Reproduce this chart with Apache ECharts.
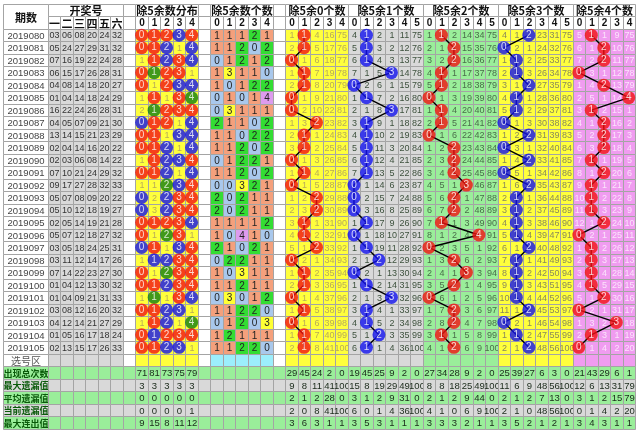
<!DOCTYPE html>
<html><head><meta charset="utf-8">
<script src="https://cdn.jsdelivr.net/npm/echarts/dist/echarts.min.js"></script>
<style>html,body{margin:0;padding:0;background:#fff}#c{width:640px;height:434px}</style>
</head><body><div id="c"></div>
<script>
// ---------- data ----------
const periods = ["2019080","2019081","2019082","2019083","2019084","2019085","2019086","2019087","2019088","2019089","2019090","2019091","2019092","2019093","2019094","2019095","2019096","2019097","2019098","2019099","2019100","2019101","2019102","2019103","2019104","2019105"];
const draws = ["03 06 08 20 24 32","05 24 27 29 31 32","07 16 19 22 24 28","06 15 17 26 28 31","04 08 14 18 20 27","01 04 14 18 24 29","16 22 24 26 28 31","04 05 07 09 21 30","13 14 15 21 23 29","02 04 14 16 20 22","02 03 06 08 14 22","07 10 21 24 29 32","09 17 27 28 32 33","05 07 08 09 20 22","05 10 12 18 19 27","02 05 14 19 21 28","05 07 12 18 27 32","03 05 18 24 25 31","03 11 12 14 17 26","07 14 22 23 27 30","01 04 12 13 30 32","01 04 09 21 31 33","03 08 12 16 20 32","04 12 14 21 27 29","01 05 16 17 18 24","02 13 15 17 26 33"];
// 除5余数个数 (count of remainders 0..4)
const remCounts = ["1 1 1 2 1","1 1 2 0 2","0 1 2 1 2","1 3 1 1 0","1 0 1 2 2","0 1 0 1 4","0 3 1 1 1","2 1 1 0 2","1 1 0 2 2","1 1 2 0 2","0 1 2 2 1","1 1 2 0 2","0 0 3 2 1","2 0 2 1 1","2 0 2 1 1","1 1 1 1 2","1 0 4 1 0","2 1 0 2 1","0 2 2 1 1","1 0 3 1 1","1 1 2 1 1","0 3 0 1 2","1 1 2 2 0","0 1 2 0 3","1 2 1 1 1","1 1 2 2 0"];
// 除5余数分布 omission values (shown where a remainder is absent)
const distMiss = ["0 0 0 0 0","0 0 0 1 0","1 0 0 0 0","0 0 0 0 1","0 1 0 0 0","1 0 1 0 0","2 0 0 0 0","0 0 0 1 0","0 0 1 0 0","0 0 0 1 0","1 0 0 0 0","0 0 0 1 0","1 1 0 0 0","0 2 0 0 0","0 3 0 0 0","0 0 0 0 0","0 1 0 0 1","0 0 1 0 0","1 0 0 0 0","0 1 0 0 0","0 0 0 0 0","1 0 1 0 0","0 0 0 0 1","1 0 0 1 0","0 0 0 0 0","0 0 0 0 1"];
// section omission tables (0 = hit, drawn as ball)
const sec0 = ["1 0 4 16 75","2 0 5 17 76","0 1 6 18 77","1 0 7 19 78","2 0 8 20 79","0 1 9 21 80","0 2 10 22 81","1 3 0 23 82","2 0 1 24 83","3 0 2 25 84","0 1 3 26 85","1 0 4 27 86","0 1 5 28 87","1 2 0 29 88","2 3 0 30 89","3 0 1 31 90","4 0 2 32 91","5 1 0 33 92","0 2 1 34 93","1 0 2 35 94","2 0 3 36 95","0 1 4 37 96","1 0 5 38 97","0 1 6 39 98","1 0 7 40 99","2 0 8 41 100"];
const sec1 = ["4 0 2 1 11 75","5 0 3 2 12 76","6 0 4 3 13 77","7 1 5 0 14 78","0 2 6 1 15 79","1 0 7 2 16 80","2 1 8 0 17 81","3 0 9 1 18 82","4 0 10 2 19 83","5 0 11 3 20 84","6 0 12 4 21 85","7 0 13 5 22 86","0 1 14 6 23 87","0 2 15 7 24 88","0 3 16 8 25 89","1 0 17 9 26 90","0 1 18 10 27 91","1 0 19 11 28 92","2 1 0 12 29 93","0 2 1 13 30 94","1 0 2 14 31 95","2 1 3 0 32 96","3 0 4 1 33 97","4 0 5 2 34 98","5 1 0 3 35 99","6 0 1 4 36 100"];
const sec2 = ["1 0 2 14 34 75","2 1 0 15 35 76","3 2 0 16 36 77","4 0 1 17 37 78","5 0 2 18 38 79","0 1 3 19 39 80","1 0 4 20 40 81","2 0 5 21 41 82","0 1 6 22 42 83","1 2 0 23 43 84","2 3 0 24 44 85","3 4 0 25 45 86","4 5 1 0 46 87","5 6 0 1 47 88","6 7 0 2 48 89","7 0 1 3 49 90","8 1 2 4 0 91","0 2 3 5 1 92","1 3 0 6 2 93","2 4 1 0 3 94","3 5 0 1 4 95","0 6 1 2 5 96","1 7 0 3 6 97","2 8 0 4 7 98","3 0 1 5 8 99","4 1 0 6 9 100"];
const sec3 = ["4 1 0 23 31 75","0 2 1 24 32 76","1 0 2 25 33 77","2 0 3 26 34 78","3 1 0 27 35 79","4 0 1 28 36 80","5 0 2 29 37 81","0 1 3 30 38 82","1 2 0 31 39 83","0 3 1 32 40 84","1 4 0 33 41 85","0 5 1 34 42 86","1 6 0 35 43 87","2 0 1 36 44 88","3 0 2 37 45 89","4 0 3 38 46 90","5 0 4 39 47 91","6 1 0 40 48 92","7 0 1 41 49 93","8 0 2 42 50 94","9 0 3 43 51 95","10 0 4 44 52 96","11 1 0 45 53 97","0 2 1 46 54 98","1 0 2 47 55 99","2 1 0 48 56 100"];
const sec4 = ["5 0 1 9 75","6 1 0 10 76","7 2 0 11 77","0 3 1 12 78","1 4 0 13 79","2 5 1 14 0","3 0 2 15 1","4 1 0 16 2","5 2 0 17 3","6 3 0 18 4","7 0 1 19 5","8 1 0 20 6","9 0 1 21 7","10 0 2 22 8","11 0 3 23 9","12 1 0 24 10","0 2 1 25 11","1 0 2 26 12","2 0 3 27 13","3 0 4 28 14","4 0 5 29 15","5 1 0 30 16","0 2 1 31 17","1 3 2 0 18","2 0 3 1 19","0 1 4 2 20"];
const statLabels = ["出现总次数","最大遗漏值","平均遗漏值","当前遗漏值","最大连出值"];
const distStats = ["71 81 73 75 79","3 3 3 3 3","0 0 0 0 0","0 0 0 0 1","9 15 8 11 12"];
const stats0 = ["29 45 24 2 0","9 8 11 41 100","2 1 2 28 0","2 0 8 41 100","3 6 3 1 1"];
const stats1 = ["19 45 25 9 2 0","15 8 19 29 49 100","3 1 2 9 31 0","6 0 1 4 36 100","3 5 3 1 1 1"];
const stats2 = ["27 34 28 9 2 0","8 8 18 25 49 100","2 1 2 9 44 0","4 1 0 6 9 100","3 3 3 2 1 1"];
const stats3 = ["25 39 27 6 3 0","11 6 9 48 56 100","2 1 2 7 13 0","2 1 0 48 56 100","3 5 2 1 2 1"];
const stats4 = ["21 43 29 6 1","12 6 13 31 79","3 1 2 15 79","0 1 4 2 20","3 4 3 1 1"];
const numHeads = ["一","二","三","四","五","六"];

// ---------- styling ----------
const NUM = '9px "Liberation Sans", Arial, sans-serif';
const NUMB = 'bold 10px "Liberation Sans", Arial, sans-serif';
const CJKB = 'bold 11px "Noto Sans CJK SC", sans-serif';
const CJKS = 'bold 9px "Noto Sans CJK SC", sans-serif';
const YEL = '#ffff3c', GRY = '#d9d9d9', GRN = '#9aee9a', PNK = '#f09cf0';
const cntFill = ['#a9c8ec', '#f4a07c', '#33dd33', '#ffff33', '#dd9bee'];
const RED = '#f21212', BLUE = '#1212ee', DGRN = '#128012';
const sections = [
  {name:'除5余0个数', start:19, rows:sec0, bg:YEL, txt:'#b8ac58', ball:RED, stats:stats0},
  {name:'除5余1个数', start:24, rows:sec1, bg:GRY, txt:'#3c503c', ball:BLUE, stats:stats1},
  {name:'除5余2个数', start:30, rows:sec2, bg:GRN, txt:'#4a6e4a', ball:RED, stats:stats2},
  {name:'除5余3个数', start:36, rows:sec3, bg:YEL, txt:'#8a8a5a', ball:BLUE, stats:stats3},
  {name:'除5余4个数', start:42, rows:sec4, bg:PNK, txt:'#fbe4fb', ball:RED, stats:stats4}
];
const X0 = -3.6, XW = 3.6, NCOL = 47;

const cells = [];
function cell(x, y, w, h, fill, text, color, font) {
  cells.push({x, y, w, h, fill, text: text == null ? '' : String(text), color: color || '#222', font: font || NUM});
}
const balls = [];
const lines = sections.map(() => []);
const sp = s => s.split(' ');

// header
cell(X0, 0, XW, 2, '#fff', '期数', '#111', CJKB);
cell(0, 0, 6, 1, '#fff', '开奖号', '#111', CJKB);
numHeads.forEach((t, i) => cell(i, 1, 1, 1, '#fff', t, '#111', CJKB));
[6, 12, 18].forEach(c => { cell(c, 0, 1, 1, '#fff'); cell(c, 1, 1, 1, '#fff'); });
cell(7, 0, 5, 1, '#fff', '除5余数分布', '#111', CJKB);
cell(13, 0, 5, 1, '#fff', '除5余数个数', '#111', CJKB);
for (let i = 0; i < 5; i++) { cell(7 + i, 1, 1, 1, '#fff', i, '#111', NUMB); cell(13 + i, 1, 1, 1, '#fff', i, '#111', NUMB); }
sections.forEach(s => {
  const n = sp(s.rows[0]).length;
  cell(s.start, 0, n, 1, '#fff', s.name, '#111', CJKB);
  for (let i = 0; i < n; i++) cell(s.start + i, 1, 1, 1, '#fff', i, '#111', NUMB);
});

// data rows
periods.forEach((p, r) => {
  const y = 2 + r;
  cell(X0, y, XW, 1, '#fff', p, '#444', '9.5px "Liberation Sans", Arial, sans-serif');
  sp(draws[r]).forEach((d, i) => cell(i, y, 1, 1, GRY, d, '#333', NUM));
  [6, 12, 18].forEach(c => cell(c, y, 1, 1, '#fff'));
  const cnt = sp(remCounts[r]).map(Number);
  const dm = sp(distMiss[r]);
  cnt.forEach((c, i) => {
    if (c > 0) {
      cell(7 + i, y, 1, 1, YEL);
      balls.push({value: [7 + i + 0.5, y + 0.5, i], itemStyle: {color: c === 1 ? RED : (c === 2 ? BLUE : DGRN)}});
    } else {
      cell(7 + i, y, 1, 1, YEL, dm[i], '#b8ac58', NUM);
    }
    cell(13 + i, y, 1, 1, cntFill[Math.min(c, 4)], c, '#222', '10px "Liberation Sans", Arial, sans-serif');
  });
  sections.forEach((s, si) => {
    sp(s.rows[r]).forEach((v, i) => {
      if (v === '0') {
        cell(s.start + i, y, 1, 1, s.bg);
        balls.push({value: [s.start + i + 0.5, y + 0.5, i], itemStyle: {color: s.ball}});
        lines[si].push([s.start + i + 0.5, y + 0.5]);
      } else {
        cell(s.start + i, y, 1, 1, s.bg, v, s.txt, NUM);
      }
    });
  });
});

// 选号区 row
{
  const y = 28;
  cell(X0, y, XW, 1, '#fff', '选号区', '#555', '10px "Noto Sans CJK SC", sans-serif');
  for (let i = 0; i < 6; i++) cell(i, y, 1, 1, GRY);
  [6, 12, 18].forEach(c => cell(c, y, 1, 1, '#fff'));
  for (let i = 0; i < 5; i++) { cell(7 + i, y, 1, 1, YEL); cell(13 + i, y, 1, 1, '#9ceefc'); }
  sections.forEach(s => { const n = sp(s.rows[0]).length; for (let i = 0; i < n; i++) cell(s.start + i, y, 1, 1, s.bg); });
}

// statistics rows
statLabels.forEach((lab, k) => {
  const y = 29 + k;
  const bg = (k % 2 === 0) ? GRN : GRY;
  cell(X0, y, XW, 1, bg, lab, '#0a5a0a', CJKS);
  const filled = {};
  sp(distStats[k]).forEach((v, i) => { filled[7 + i] = v; });
  sections.forEach(s => sp(s.stats[k]).forEach((v, i) => { filled[s.start + i] = v; }));
  for (let c = 0; c < NCOL; c++) cell(c, y, 1, 1, bg, filled[c], '#1a2a1a', '9.5px "Liberation Sans", Arial, sans-serif');
});

// ---------- chart ----------
const chart = echarts.init(document.getElementById('c'), null, {renderer: 'canvas'});
const series = [{
  type: 'custom', silent: true, z: 1,
  data: cells.map(c => [c.x, c.y, c.x + c.w, c.y + c.h]),
  encode: {x: [0, 2], y: [1, 3]},
  renderItem: function (params, api) {
    const c = cells[params.dataIndex];
    const a = api.coord([api.value(0), api.value(1)]);
    const b = api.coord([api.value(2), api.value(3)]);
    const x = Math.round(a[0]) + 0.5, y = Math.round(a[1]) + 0.5;
    const w = Math.round(b[0]) - Math.round(a[0]), h = Math.round(b[1]) - Math.round(a[1]);
    const ch = [{type: 'rect', shape: {x, y, width: w, height: h}, style: {fill: c.fill, stroke: '#a4a4a4', lineWidth: 1}}];
    if (c.text !== '') ch.push({type: 'text', style: {x: x + w / 2, y: y + h / 2 + 0.5, text: c.text, fill: c.color, font: c.font, align: 'center', verticalAlign: 'middle'}});
    return {type: 'group', children: ch};
  }
}];
lines.forEach(pts => series.push({
  type: 'line', data: pts, symbol: 'none', silent: true, z: 2,
  lineStyle: {color: '#000', width: 1.4}
}));
series.push({
  type: 'scatter', data: balls, symbol: 'circle', symbolSize: 13, silent: true, z: 3,
  label: {show: true, position: 'inside', formatter: p => String(p.value[2]), color: '#fff', fontSize: 10, fontFamily: '"Liberation Sans", Arial, sans-serif'}
});
chart.setOption({
  animation: false,
  grid: {left: 3, top: 4, width: 632, height: 424.5},
  xAxis: {type: 'value', min: X0, max: NCOL, show: false},
  yAxis: {type: 'value', min: 0, max: 34, inverse: true, show: false},
  series
});
</script>
</body></html>
